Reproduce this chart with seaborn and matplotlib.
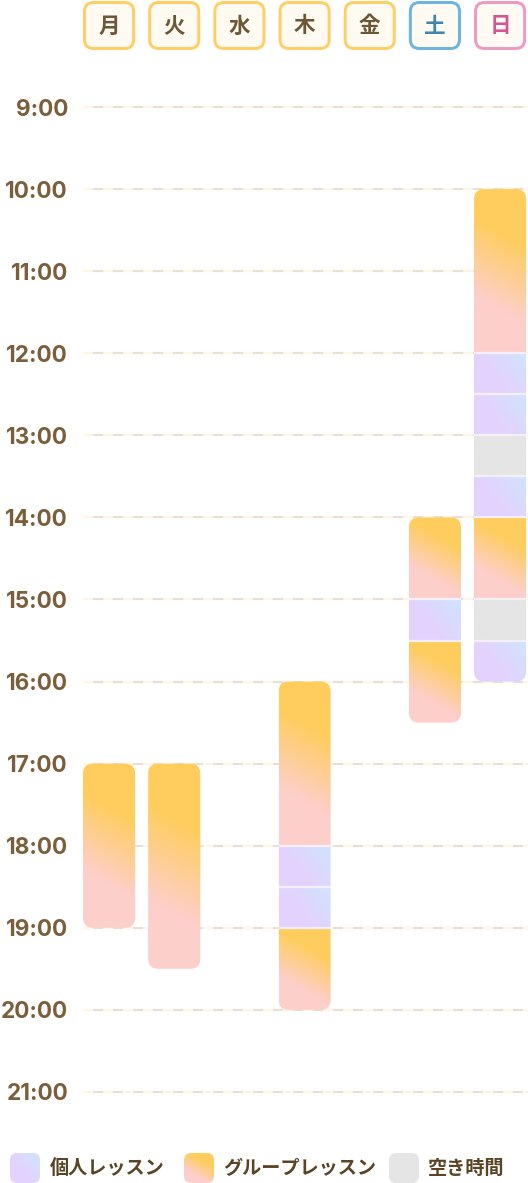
import numpy as np
import matplotlib
matplotlib.use('Agg')
import matplotlib.pyplot as plt
import seaborn as sns
from matplotlib.patches import FancyBboxPatch
from matplotlib.colors import to_rgb

# weekday header
days = ['月', '火', '水', '木', '金', '土', '日']
day_text_colors = ['#6e5634'] * 5 + ['#3f85b0', '#d6548f']
day_border_colors = ['#ffcf66'] * 5 + ['#6cb5de', '#ee9ac4']

# time axis
hours = list(range(9, 22))
hour_labels = [f'{h}:00' for h in hours]

# schedule segments (day, start hour, end hour, kind)
seg_day = ['月', '火', '木', '木', '木', '木', '土', '土', '土',
           '日', '日', '日', '日', '日', '日', '日', '日']
seg_start = [17, 17, 16, 18, 18.5, 19, 14, 15, 15.5,
             10, 12, 12.5, 13, 13.5, 14, 15, 15.5]
seg_end = [19, 19.5, 18, 18.5, 19, 20, 15, 15.5, 16.5,
           12, 12.5, 13, 13.5, 14, 15, 15.5, 16]
seg_kind = ['group', 'group', 'group', 'solo', 'solo', 'group', 'group', 'solo', 'group',
            'group', 'solo', 'solo', 'free', 'solo', 'group', 'free', 'solo']

legend_kinds = ['solo', 'group', 'free']
legend_labels = ['個人レッスン', 'グループレッスン', '空き時間']

# (start colour, end colour, css angle, stop0, stop1)
kind_style = {
    'group': ('#fdcfca', '#ffcd5e', 30, 0.3, 0.7),
    'solo': ('#e4d2fe', '#d2e2fd', 50, 0.4, 0.9),
    'free': ('#e5e5e5', '#e5e5e5', 30, 0.3, 0.7),
}

sns.set_theme(style='white')
plt.rcParams['font.family'] = ['Noto Sans CJK JP', 'DejaVu Sans']
plt.rcParams['lines.scale_dashes'] = False

W, H = 528, 1183
PX_DAY = 65.17
PX_HOUR = 82.08


def gradient(w, h, kind):
    c0, c1, angle, s0, s1 = kind_style[kind]
    c0, c1 = np.array(to_rgb(c0)), np.array(to_rgb(c1))
    a = np.deg2rad(angle)
    xs = np.arange(w) + 0.5 - w / 2
    ys = h / 2 - (np.arange(h) + 0.5)
    X, Y = np.meshgrid(xs, ys)
    L = w * np.sin(a) + h * np.cos(a)
    t = (X * np.sin(a) + Y * np.cos(a)) / L + 0.5
    f = np.clip((t - s0) / (s1 - s0), 0, 1)[..., None]
    return c0 + (c1 - c0) * f


fig = plt.figure(figsize=(W / 100, H / 100), dpi=100)
fig.patch.set_facecolor('white')

# main timetable axes
top_px, bot_px = 60, 1125
ax = fig.add_axes([83 / W, 1 - bot_px / H, 445 / W, (bot_px - top_px) / H])
xlim = (-0.4, -0.4 + 445 / PX_DAY)
ylim = (9 + (bot_px - 107) / PX_HOUR, 9 - (107 - top_px) / PX_HOUR)

for h in hours:
    ax.axhline(h, color='#fff5e2', lw=1.5, zorder=1)
    ax.axhline(h, color='#e6e1d8', lw=1.5, ls=(7.2, (7.2, 7.2)), zorder=2)

r_x = 10 / PX_DAY
r_y = 10 / PX_HOUR
for i, d in enumerate(days):
    idx = [k for k in range(len(seg_day)) if seg_day[k] == d]
    if not idx:
        continue
    b0 = min(seg_start[k] for k in idx)
    b1 = max(seg_end[k] for k in idx)
    block = FancyBboxPatch((i - 0.4, b0), 0.8, b1 - b0,
                           boxstyle=f'round,pad=0,rounding_size={r_x}',
                           mutation_aspect=r_y / r_x, fc='none', ec='none', zorder=3)
    ax.add_patch(block)
    for k in idx:
        hpx = int(round((seg_end[k] - seg_start[k]) * PX_HOUR))
        img = gradient(52, hpx, seg_kind[k])
        im = ax.imshow(img, extent=(i - 0.4, i + 0.4, seg_end[k], seg_start[k]),
                       origin='upper', aspect='auto', interpolation='bilinear', zorder=3)
        im.set_clip_path(block)
        if seg_start[k] != b0:
            ax.hlines(seg_start[k], i - 0.4, i + 0.4, color='#f5f0f7', lw=1.6, zorder=4)

ax.set_xlim(*xlim)
ax.set_ylim(*ylim)
ax.set_xticks([])
ax.set_yticks(hours)
ax.set_yticklabels(hour_labels, family=['Inter', 'DejaVu Sans'], fontweight='bold',
                   fontsize=16.2, color='#7b5f3b')
ax.tick_params(axis='y', length=0, pad=15 * 0.72)
sns.despine(ax=ax, left=True, bottom=True)

# header with weekday boxes
hax = fig.add_axes([83 / W, 1 - 52 / H, 445 / W, 52 / H])
hax.set_xlim(*xlim)
hax.set_ylim(52, 0)
hax.axis('off')
for i, d in enumerate(days):
    box = FancyBboxPatch((i - 0.4 + 1.5 / PX_DAY, 2.5), 0.8 - 3 / PX_DAY, 46,
                         boxstyle=f'round,pad=0,rounding_size={9 / PX_DAY}',
                         mutation_aspect=PX_DAY, fc='#fffbf2', ec=day_border_colors[i],
                         lw=3 * 0.72)
    hax.add_patch(box)
    hax.text(i, 26, d, ha='center', va='center', fontsize=15.5, fontweight='bold',
             color=day_text_colors[i])

# legend row
lax = fig.add_axes([0, 0, 1, 45 / H])
lax.set_xlim(0, W)
lax.set_ylim(H, H - 45)
lax.axis('off')
sw_x = [10, 184, 389]
tx_x = [50, 223, 428]
for kind, lab, sx, tx in zip(legend_kinds, legend_labels, sw_x, tx_x):
    sw = FancyBboxPatch((sx, 1153), 30, 30, boxstyle='round,pad=0,rounding_size=7',
                        fc='none', ec='none')
    lax.add_patch(sw)
    im = lax.imshow(gradient(30, 30, kind), extent=(sx, sx + 30, 1183, 1153),
                    origin='upper', aspect='auto', interpolation='bilinear')
    im.set_clip_path(sw)
    lax.text(tx, 1168.5, lab, ha='left', va='center', fontsize=13.8, fontweight='bold',
             color='#5b4424')
lax.set_xlim(0, W)
lax.set_ylim(H, H - 45)

fig.savefig('out.png', dpi=100)
